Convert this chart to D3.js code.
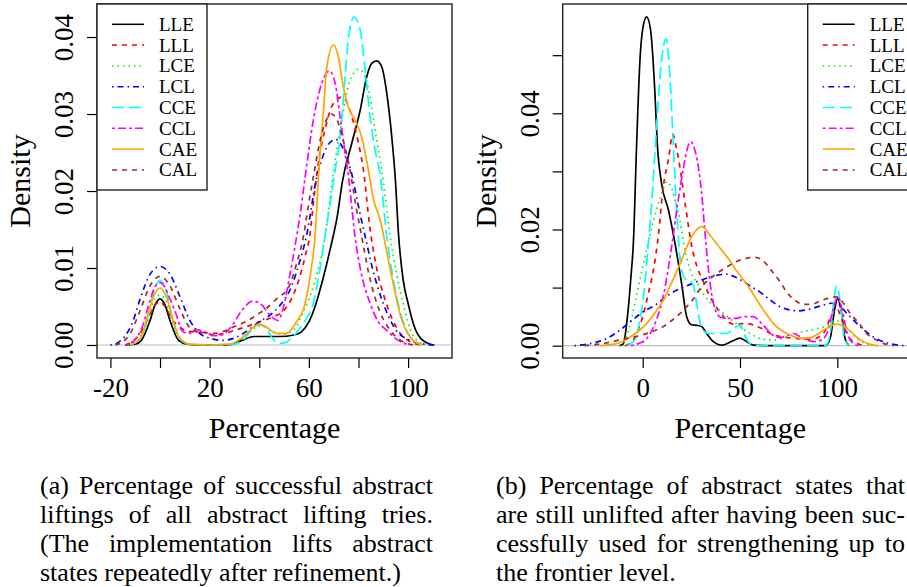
<!DOCTYPE html>
<html>
<head>
<meta charset="utf-8">
<script src="https://cdn.jsdelivr.net/npm/d3@7"></script>
<style>
  body { margin: 0; background: #fff; }
  svg { display: block; }
  svg text { font-family: "Liberation Serif", serif; fill: #000; }
</style>
</head>
<body>
<svg id="chart" width="907" height="587" font-family="Liberation Serif, serif"></svg>
<script>
'use strict';

const FONT = '"Liberation Serif", serif';

// series in legend order
const seriesNames = ['LLE', 'LLL', 'LCE', 'LCL', 'CCE', 'CCL', 'CAE', 'CAL'];
const seriesColors = ['#000000', '#ff0000', '#00ee00', '#0000ff', '#00ffff', '#ff00ff', '#ffa500', '#a52a2a'];
const seriesDash = [null, '5,5', '1.5,4', '1.5,4,6,4', '12,5', '3,3,8,3', null, '5,5'];

// (a) successful abstract liftings, [percentage, density]
const aLLE = [[-14,0],[-10,0.0001],[-7.5,0.0006],[-4,0.0032],[-2,0.0052],[0,0.006],[2,0.0052],[4,0.0032],[7.5,0.0006],[11,0.0001],[15,0],[28,0],[33,0.0006],[38,0.0011],[48,0.0011],[54,0.0013],[57,0.0017],[60,0.003],[63,0.0055],[66,0.009],[69,0.013],[71.5,0.0168],[73.5,0.0212],[77.3,0.0262],[80.7,0.0305],[83.3,0.0348],[85.4,0.0366],[87.4,0.0369],[89.4,0.0361],[91.4,0.0327],[93.4,0.0271],[94.8,0.0218],[96.2,0.0141],[98,0.0085],[100,0.0054],[102.5,0.0024],[105,0.0009],[110,0]];
const aLLL = [[-14,0],[-11,0.0005],[-8,0.0015],[-4,0.004],[-2,0.0052],[0,0.0056],[2,0.005],[5,0.0033],[8,0.0023],[11,0.0018],[15,0.0017],[18,0.0016],[22,0.0013],[26,0.0015],[30,0.0019],[35,0.0024],[40,0.003],[46,0.0037],[50,0.0045],[53,0.006],[56,0.0085],[58.5,0.0115],[60.5,0.0145],[62,0.019],[64,0.024],[66.5,0.028],[69,0.0308],[71,0.0318],[73.3,0.0322],[75.5,0.0314],[77.5,0.0295],[80,0.0262],[82,0.0227],[84.5,0.0155],[87,0.0105],[91,0.0056],[96,0.0019],[100,0.0006],[105,0]];
const aLCE = [[-13,0],[-9,0.0006],[-5,0.0032],[-2.5,0.0057],[0,0.0065],[2.5,0.0056],[5,0.003],[8,0.0009],[12,0.0001],[20,0],[28,0.0001],[34,0.001],[38,0.0022],[41,0.0025],[45,0.0018],[50,0.0014],[54,0.002],[58,0.0045],[62,0.0078],[66.5,0.0141],[70,0.0227],[72,0.0268],[74,0.0305],[76,0.0338],[78,0.0353],[80,0.0358],[82.5,0.035],[84.7,0.0322],[86.7,0.0279],[89.4,0.0227],[92.8,0.0141],[95.5,0.009],[98,0.0054],[102,0.0012],[107,0]];
const aLCL = [[-20,0],[-17,0.0003],[-14,0.0012],[-11,0.003],[-8,0.006],[-4,0.0092],[0,0.0102],[4,0.0092],[8,0.0063],[12,0.0032],[16,0.0015],[20,0.0009],[25,0.0006],[30,0.0009],[35,0.0018],[40,0.003],[44,0.0038],[48,0.005],[53,0.0076],[56,0.0105],[59,0.0141],[63,0.0215],[66,0.0248],[68.5,0.0263],[71,0.0267],[73,0.026],[75.3,0.0244],[77.3,0.0222],[80,0.018],[82.7,0.0141],[86,0.0095],[90,0.0054],[95,0.002],[100,0.0007],[105,0.0002],[111,0]];
const aCCE = [[-12,0],[-8,0.0008],[-5,0.0035],[-2.5,0.007],[0,0.0084],[2.5,0.007],[5,0.0035],[8,0.0008],[12,0.0001],[20,0],[28,0],[33,0.0005],[37,0.002],[40,0.0027],[43,0.002],[46,0.0006],[49,0.0002],[52,0.0006],[55.8,0.0019],[59,0.0035],[61.8,0.0054],[64,0.009],[66.5,0.0141],[70.6,0.0227],[72.6,0.027],[74.6,0.0348],[76,0.04],[78.2,0.0426],[80.7,0.0409],[82.7,0.0357],[84.7,0.0296],[86.7,0.0253],[88.7,0.0222],[91.4,0.0141],[93.5,0.0095],[96,0.0054],[100.8,0.0011],[106,0]];
const aCCL = [[-14,0],[-10,0.0007],[-7,0.0025],[-4,0.0058],[-2,0.0076],[0,0.0081],[2,0.0075],[4,0.006],[6.5,0.004],[9,0.0018],[11.5,0.0015],[14.5,0.002],[18,0.0017],[21.5,0.0012],[25,0.0013],[29,0.0025],[33,0.0045],[37.5,0.0057],[41,0.0052],[44,0.004],[47.5,0.0032],[50,0.0052],[52,0.0085],[54.5,0.013],[56.5,0.017],[58.5,0.0218],[61.8,0.0292],[65.2,0.034],[68.3,0.0356],[70.6,0.034],[72.6,0.0296],[74.6,0.0249],[76,0.0218],[78.6,0.0141],[81,0.0095],[84.7,0.0054],[88,0.003],[91.4,0.0019],[96,0.0006],[101,0]];
const aCAE = [[-12,0],[-8,0.0008],[-5,0.0038],[-2.5,0.0064],[0,0.0074],[2.5,0.0063],[5,0.0035],[8,0.0009],[12,0.0001],[20,0],[28,0.0001],[34,0.0012],[38,0.0024],[40,0.0027],[43,0.0023],[47,0.0015],[51,0.0015],[55,0.003],[58.5,0.0054],[61,0.01],[62.5,0.0141],[63.9,0.022],[65.9,0.0305],[67.2,0.036],[69.9,0.039],[71.9,0.0374],[73.9,0.0335],[75.9,0.0309],[78.6,0.0292],[81.3,0.027],[84,0.0227],[86,0.019],[88.7,0.0163],[92.8,0.0098],[97.5,0.0032],[102,0.0006],[106,0]];
const aCAL = [[-18,0],[-15,0.0004],[-12,0.0015],[-8,0.0045],[-4,0.0077],[0,0.0089],[4,0.0077],[8,0.0047],[11,0.0027],[14,0.0018],[18,0.0016],[22,0.0015],[26,0.0018],[30,0.0024],[35,0.0031],[39,0.0039],[43,0.0048],[47,0.006],[52,0.0076],[55,0.0105],[57.8,0.0141],[60,0.0185],[62,0.0222],[64.5,0.0265],[67,0.0292],[69,0.03],[71,0.0295],[73.5,0.027],[76.6,0.0227],[79,0.018],[81.3,0.0141],[84,0.0095],[87.4,0.0054],[92.8,0.0019],[97,0.0006],[102,0]];

// (b) abstract states still unlifted, [percentage, density]
const bLLE = [[-12,0],[-10,0.0003],[-8,0.0045],[-6,0.012],[-4.8,0.0176],[-3.1,0.0348],[-1.4,0.0492],[0,0.0545],[2,0.0566],[4,0.0545],[6.3,0.0434],[7.5,0.0348],[9.7,0.0279],[13.2,0.0234],[16.6,0.0176],[20,0.0107],[22.6,0.005],[25.2,0.0036],[28,0.0035],[30.3,0.0033],[32.9,0.0021],[36,0.0008],[41,0.0001],[46,0.0008],[50,0.0013],[53,0.0008],[57,0.0001],[65,0],[94,0],[96.5,0.0015],[98.5,0.006],[100.2,0.0081],[102,0.006],[104,0.0012],[106,0]];
const bLLL = [[-9,0],[-4.8,0.001],[-2,0.003],[-0.5,0.0044],[2.9,0.009],[5.5,0.013],[8,0.0188],[10.6,0.0274],[13.2,0.032],[15.5,0.0364],[17,0.0345],[19,0.031],[22,0.024],[25,0.0175],[28,0.0135],[31,0.0112],[34,0.0088],[39.7,0.0058],[46.6,0.0037],[53.4,0.0038],[60.3,0.0031],[67,0.0019],[77,0.0013],[87,0.0011],[93,0.0022],[97,0.0052],[99.7,0.0064],[102,0.0048],[104.8,0.0021],[110,0.0004],[115,0]];
const bLCE = [[-12,0],[-9,0.001],[-6,0.0042],[-3,0.009],[0,0.0135],[2,0.0165],[5.5,0.0215],[9,0.0255],[12.5,0.0282],[15,0.027],[17,0.0245],[19.2,0.0215],[21.7,0.0165],[25,0.0125],[28.6,0.0105],[32,0.0085],[35,0.0073],[41,0.0057],[47,0.0041],[55,0.0021],[62,0.0011],[68,0.001],[74,0.0015],[80.8,0.0023],[88,0.0028],[94.5,0.0034],[99.7,0.0043],[104.8,0.0031],[111,0.001],[118,0]];
const bLCL = [[-35,0],[-28,0.0003],[-20,0.001],[-12,0.0026],[-6,0.0042],[0,0.0058],[6,0.0069],[14,0.0089],[22.6,0.0103],[31,0.0114],[38,0.0121],[43,0.0123],[48.3,0.0117],[55,0.0103],[60,0.0093],[65.4,0.0079],[70,0.0068],[74,0.0063],[80,0.006],[86,0.0063],[91,0.0068],[97,0.0073],[100,0.0072],[104.8,0.0056],[111.7,0.0033],[118.5,0.0015],[125.4,0.0005],[134,0]];
const bCCE = [[-8,0],[-4,0.001],[-2,0.0035],[-0.5,0.0061],[1.5,0.012],[2.9,0.0176],[4.3,0.023],[5.5,0.029],[7.5,0.0395],[9.5,0.0485],[12,0.0528],[14,0.0463],[15.7,0.0348],[17.4,0.0234],[20,0.013],[22,0.0115],[24,0.0112],[26,0.0104],[27.7,0.0073],[29.5,0.004],[31.5,0.0025],[34,0.0021],[38,0.0021],[43,0.0021],[46,0.0027],[50,0.0036],[52,0.0022],[54,0.0008],[57,0.0001],[65,0],[94,0],[96.5,0.0025],[98.3,0.008],[99.7,0.0103],[101.5,0.0075],[103.5,0.0015],[106,0]];
const bCCL = [[-6,0],[-2,0.0004],[2,0.0012],[5,0.0028],[7.2,0.0046],[10.6,0.0085],[13,0.013],[15.5,0.0185],[18,0.0245],[20.9,0.0305],[23,0.034],[24.8,0.0351],[26.5,0.034],[28.5,0.031],[30.3,0.0262],[32,0.0195],[33.5,0.014],[35.5,0.0088],[37.5,0.006],[40,0.0049],[44,0.0047],[48,0.0047],[52,0.005],[56.9,0.005],[60,0.0042],[63.7,0.0029],[67,0.0018],[70.6,0.0014],[74,0.0017],[77.4,0.0021],[80,0.0017],[84.3,0.001],[88,0.0007],[92,0.001],[95,0.0024],[98,0.0065],[100.3,0.0084],[102.5,0.0062],[104.8,0.0025],[108,0.0004],[111,0]];
const bCAE = [[-22,0],[-13,0.0004],[-5,0.0018],[-0.5,0.003],[2,0.0038],[7.2,0.0061],[11,0.008],[14,0.0102],[17.5,0.0128],[20.9,0.0155],[24,0.018],[27,0.0197],[30.5,0.0205],[34.6,0.019],[39.7,0.0168],[44,0.015],[48,0.013],[53.4,0.0106],[60.3,0.007],[64,0.0052],[67.1,0.0038],[71,0.0027],[74,0.0021],[80.8,0.0013],[86,0.0014],[90,0.002],[94.5,0.003],[99.7,0.0037],[104.8,0.003],[111.7,0.001],[118.5,0.0001],[121,0]];
const bCAL = [[-30,0],[-20,0.0004],[-11.6,0.001],[-3,0.0016],[5.5,0.0025],[10.6,0.0033],[14,0.0041],[20,0.0058],[25,0.0076],[31,0.0104],[38,0.0124],[44,0.0137],[48.3,0.0145],[53,0.015],[57.7,0.0152],[62,0.0146],[66,0.013],[70.6,0.011],[74,0.0092],[78,0.0079],[82.6,0.0071],[87.7,0.0072],[92,0.0078],[97,0.0083],[99.7,0.0084],[102.5,0.0076],[106.5,0.0056],[111.7,0.0036],[115,0.0021],[118.5,0.0013],[123.6,0.0004],[129,0]];

// ticks
const xTicksA = [-20, 0, 20, 40, 60, 80, 100];
const xLabelsA = [-20, 20, 60, 100];
const yTicksA = [0, 0.01, 0.02, 0.03, 0.04];
const yLabelsA = [0, 0.01, 0.02, 0.03, 0.04];
const xTicksB = [0, 50, 100];
const xLabelsB = [0, 50, 100];
const yTicksB = [0, 0.01, 0.02, 0.03, 0.04, 0.05];
const yLabelsB = [0, 0.02, 0.04];

const captionA = [
  '(a) Percentage of successful abstract',
  'liftings of all abstract lifting tries.',
  '(The implementation lifts abstract',
  'states repeatedly after refinement.)'
];
const captionB = [
  '(b) Percentage of abstract states that',
  'are still unlifted after having been suc-',
  'cessfully used for strengthening up to',
  'the frontier level.'
];

const svg = d3.select('#chart');

function drawPanel(p) {
  const g = svg.append('g').attr('font-family', FONT);

  const x = d3.scaleLinear().domain(p.xDomain).range([p.left, p.right]);
  const y = d3.scaleLinear().domain(p.yDomain).range([p.bottom, p.top]);

  const clipId = 'clip-' + p.id;
  g.append('clipPath').attr('id', clipId)
    .append('rect')
      .attr('x', p.left).attr('y', p.top)
      .attr('width', p.right - p.left).attr('height', p.bottom - p.top);

  // zero line
  g.append('line')
    .attr('x1', p.left).attr('x2', p.right)
    .attr('y1', y(0)).attr('y2', y(0))
    .attr('stroke', '#bebebe')
    .attr('stroke-width', 1.2);

  const line = d3.line()
    .x(d => x(d[0]))
    .y(d => y(d[1]))
    .curve(d3.curveMonotoneX);

  g.append('g')
    .attr('clip-path', `url(#${clipId})`)
    .selectAll('path')
    .data(p.series)
   .enter().append('path')
    .attr('d', line)
    .attr('fill', 'none')
    .attr('stroke', (d, i) => seriesColors[i])
    .attr('stroke-width', 1.7)
    .attr('stroke-dasharray', (d, i) => seriesDash[i]);

  // axes
  const xAxis = d3.axisBottom(x)
    .tickValues(p.xTicks)
    .tickSize(10)
    .tickFormat(d => p.xLabels.includes(d) ? String(d) : '');

  const gx = g.append('g')
    .attr('transform', `translate(0,${p.bottom})`)
    .call(xAxis)
    .attr('font-family', FONT)
    .attr('font-size', 27);
  gx.select('.domain').remove();
  gx.selectAll('line').attr('stroke', '#000').attr('stroke-width', 1.2);
  gx.selectAll('text').attr('y', 39).attr('dy', null).attr('font-family', FONT);

  const yAxis = d3.axisLeft(y)
    .tickValues(p.yTicks)
    .tickSize(10)
    .tickFormat(d => p.yLabels.includes(d) ? d3.format('.2f')(d) : '');

  const gy = g.append('g')
    .attr('transform', `translate(${p.left},0)`)
    .call(yAxis)
    .attr('font-family', FONT)
    .attr('font-size', 27);
  gy.select('.domain').remove();
  gy.selectAll('line').attr('stroke', '#000').attr('stroke-width', 1.2);
  gy.selectAll('text')
    .attr('x', null).attr('dy', null)
    .attr('font-family', FONT)
    .attr('text-anchor', 'middle')
    .attr('transform', 'translate(-24,0) rotate(-90)');

  // box
  g.append('rect')
    .attr('x', p.left).attr('y', p.top)
    .attr('width', p.right - p.left).attr('height', p.bottom - p.top)
    .attr('fill', 'none')
    .attr('stroke', '#222')
    .attr('stroke-width', 1.4);

  // titles
  g.append('text')
    .attr('x', (p.left + p.right) / 2)
    .attr('y', 438)
    .attr('text-anchor', 'middle')
    .attr('font-family', FONT)
    .attr('font-size', 30)
    .text('Percentage');

  g.append('text')
    .attr('transform', `translate(${p.left - 67},${(p.top + p.bottom) / 2}) rotate(-90)`)
    .attr('text-anchor', 'middle')
    .attr('font-family', FONT)
    .attr('font-size', 30)
    .text('Density');

  // legend
  const lw = 110, lh = 186, rowH = 20.8;
  const lx = p.legend === 'left' ? p.left : p.right - lw;
  const lg = g.append('g').attr('transform', `translate(${lx},${p.top})`);
  lg.append('rect')
    .attr('width', lw).attr('height', lh)
    .attr('fill', '#fff')
    .attr('stroke', '#222')
    .attr('stroke-width', 1.4);
  seriesNames.forEach((name, i) => {
    const ry = 20.3 + i * rowH;
    lg.append('line')
      .attr('x1', 15).attr('x2', 47)
      .attr('y1', ry).attr('y2', ry)
      .attr('stroke', seriesColors[i])
      .attr('stroke-width', 1.5)
      .attr('stroke-dasharray', seriesDash[i]);
    lg.append('text')
      .attr('x', 62).attr('y', ry + 6.5)
      .attr('font-family', FONT)
      .attr('font-size', 19)
      .text(name);
  });
}

drawPanel({
  id: 'a', left: 97, right: 452, top: 4, bottom: 358,
  xDomain: [-25.4, 117.7], yDomain: [-0.00169, 0.04429],
  xTicks: xTicksA, xLabels: xLabelsA, yTicks: yTicksA, yLabels: yLabelsA,
  series: [aLLE, aLLL, aLCE, aLCL, aCCE, aCCL, aCAE, aCAL],
  legend: 'left'
});

drawPanel({
  id: 'b', left: 562.7, right: 917.7, top: 4, bottom: 358,
  xDomain: [-41.1, 141.3], yDomain: [-0.00212, 0.05881],
  xTicks: xTicksB, xLabels: xLabelsB, yTicks: yTicksB, yLabels: yLabelsB,
  series: [bLLE, bLLL, bLCE, bLCL, bCCE, bCCL, bCAE, bCAL],
  legend: 'right'
});

// captions, justified except for the last line
function caption(lines, x0, x1) {
  lines.forEach((s, i) => {
    const t = svg.append('text')
      .attr('x', x0)
      .attr('y', 494 + i * 29)
      .attr('font-family', FONT)
      .attr('font-size', 26)
      .text(s);
    if (i < lines.length - 1) {
      const natural = t.node().getComputedTextLength();
      const gaps = s.split(' ').length - 1;
      t.style('word-spacing', ((x1 - x0 - natural) / gaps) + 'px');
    }
  });
}

caption(captionA, 40, 433);
caption(captionB, 496, 905);
</script>
</body>
</html>
